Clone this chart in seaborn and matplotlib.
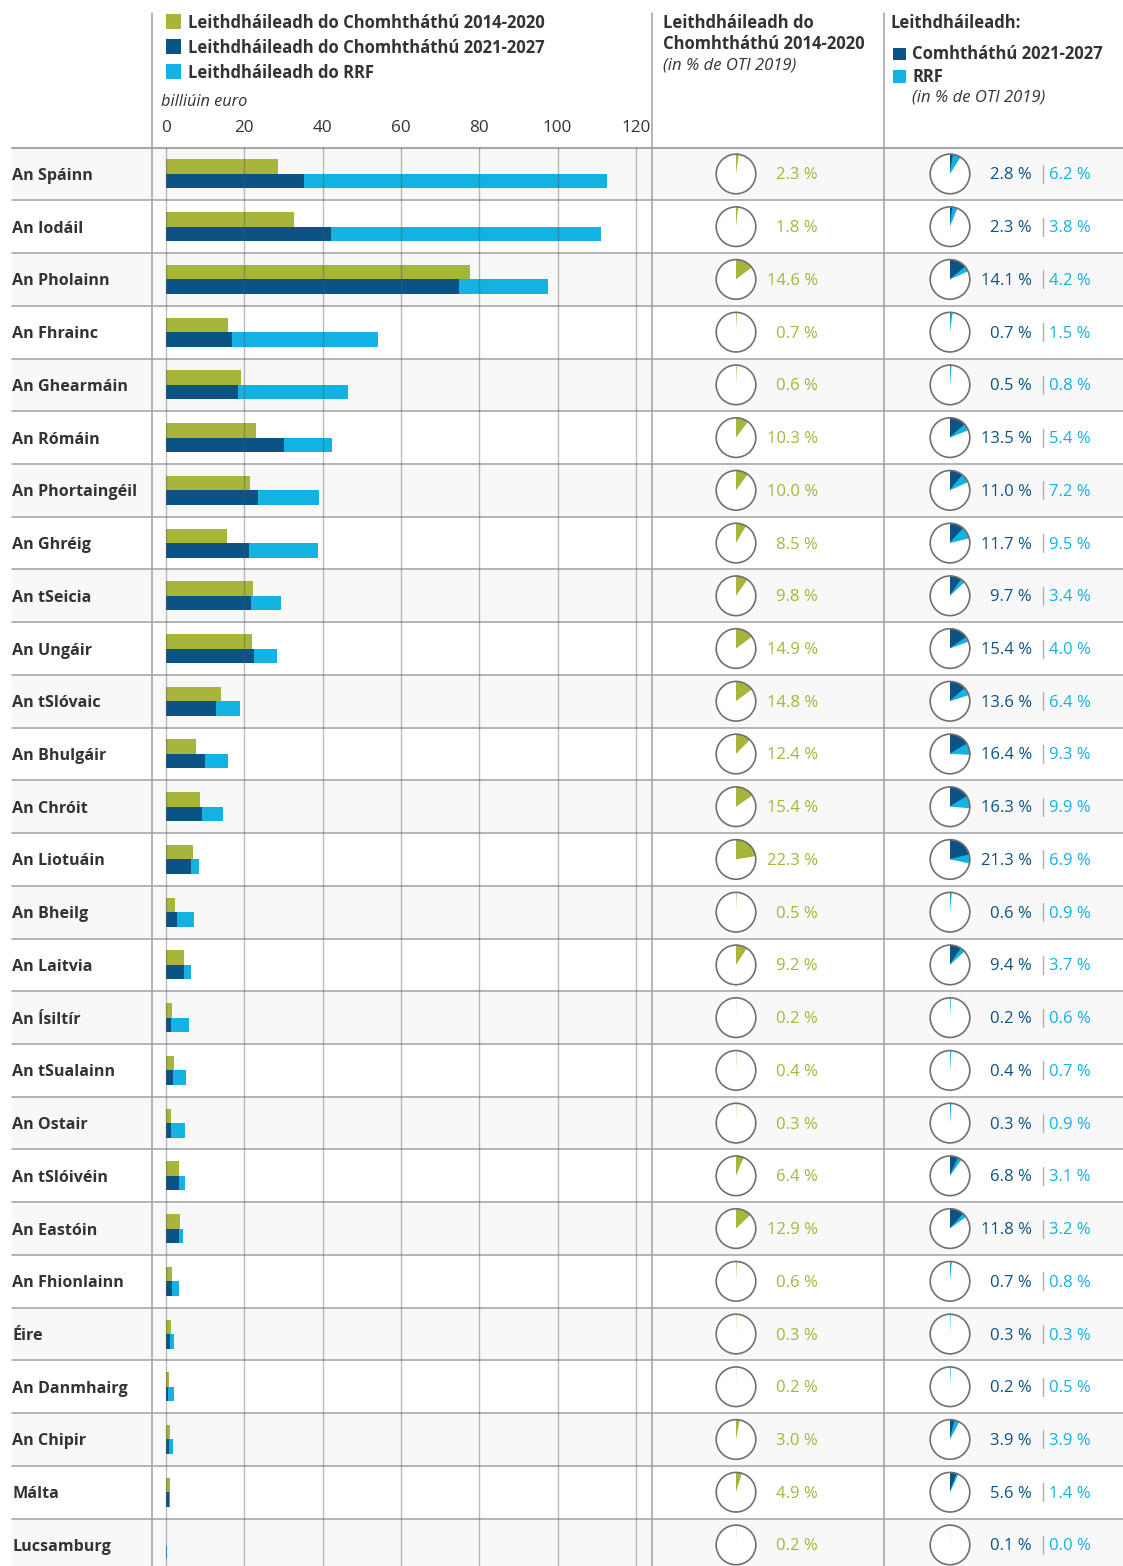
import seaborn as sns
import numpy as np
import pandas as pd
import matplotlib.pyplot as plt
from matplotlib.patches import Rectangle, Circle

countries = ['An Spáinn', 'An Iodáil', 'An Pholainn', 'An Fhrainc', 'An Ghearmáin',
             'An Rómáin', 'An Phortaingéil', 'An Ghréig', 'An tSeicia', 'An Ungáir',
             'An tSlóvaic', 'An Bhulgáir', 'An Chróit', 'An Liotuáin', 'An Bheilg',
             'An Laitvia', 'An Ísiltír', 'An tSualainn', 'An Ostair', 'An tSlóivéin',
             'An Eastóin', 'An Fhionlainn', 'Éire', 'An Danmhairg', 'An Chipir',
             'Málta', 'Lucsamburg']

# billiúin euro
coh_1420 = [28.6, 32.8, 77.7, 15.9, 19.2, 23.0, 21.5, 15.5, 22.1, 21.9, 14.0, 7.6, 8.7, 6.9,
            2.3, 4.5, 1.5, 2.1, 1.3, 3.2, 3.6, 1.5, 1.3, 0.7, 0.9, 0.9, 0.1]
coh_2127 = [35.3, 42.1, 74.9, 16.8, 18.3, 30.2, 23.6, 21.3, 21.7, 22.5, 12.8, 10.0, 9.1, 6.4,
            2.7, 4.5, 1.4, 1.9, 1.2, 3.2, 3.2, 1.5, 1.1, 0.4, 0.7, 0.7, 0.1]
rrf = [77.3, 69.0, 22.7, 37.4, 28.1, 12.2, 15.5, 17.4, 7.8, 5.8, 6.0, 5.8, 5.5, 2.1,
       4.5, 1.9, 4.6, 3.1, 3.7, 1.7, 1.1, 1.9, 1.0, 1.6, 1.1, 0.3, 0.05]

# % de OTI 2019
pct_1420 = [2.3, 1.8, 14.6, 0.7, 0.6, 10.3, 10.0, 8.5, 9.8, 14.9, 14.8, 12.4, 15.4, 22.3,
            0.5, 9.2, 0.2, 0.4, 0.3, 6.4, 12.9, 0.6, 0.3, 0.2, 3.0, 4.9, 0.2]
pct_2127 = [2.8, 2.3, 14.1, 0.7, 0.5, 13.5, 11.0, 11.7, 9.7, 15.4, 13.6, 16.4, 16.3, 21.3,
            0.6, 9.4, 0.2, 0.4, 0.3, 6.8, 11.8, 0.7, 0.3, 0.2, 3.9, 5.6, 0.1]
pct_rrf = [6.2, 3.8, 4.2, 1.5, 0.8, 5.4, 7.2, 9.5, 3.4, 4.0, 6.4, 9.3, 9.9, 6.9,
           0.9, 3.7, 0.6, 0.7, 0.9, 3.1, 3.2, 0.8, 0.3, 0.5, 3.9, 1.4, 0.0]

x_ticks = [0, 20, 40, 60, 80, 100, 120]
legend_labels = ['Leithdháileadh do Chomhtháthú 2014-2020',
                 'Leithdháileadh do Chomhtháthú 2021-2027',
                 'Leithdháileadh do RRF']

GREEN = '#a7b53a'
DARK = '#0b5384'
LIGHT = '#12b2e2'
TXT = '#333333'
LINE = '#a8a8a8'

sns.set_style('white')
plt.rcParams['font.family'] = ['Open Sans', 'DejaVu Sans']

W, H = 1123, 1566
fig = plt.figure(figsize=(W / 100, H / 100), dpi=100)

def frac(x0, y0, x1, y1):
    return [x0 / W, 1 - y1 / H, (x1 - x0) / W, (y1 - y0) / H]

def draw_pie(pax, values, colors):
    wedges, _ = pax.pie(values, colors=colors, startangle=90, counterclock=False, radius=1)
    for w, c in zip(wedges, colors):
        if c == 'white':
            w.set_linewidth(0)
        else:
            w.set_edgecolor(c)
            w.set_linewidth(0.6)
    pax.add_patch(Circle((0, 0), 1, fill=False, ec='#707070', lw=1.2))
    pax.set_xlim(-1.06, 1.06)
    pax.set_ylim(-1.06, 1.06)
    pax.set_aspect('equal')
    pax.axis('off')

top = 147.6
rh = 52.73
n = len(countries)

# background: bands, lines, header texts (pixel coords)
ax_bg = fig.add_axes([0, 0, 1, 1], zorder=0)
ax_bg.set_xlim(0, W)
ax_bg.set_ylim(H, 0)
ax_bg.axis('off')
for i in range(n):
    if i % 2 == 0:
        ax_bg.add_patch(Rectangle((12, top + i * rh), W - 12, rh, color='#f8f8f8', lw=0))
for i in range(n + 1):
    ax_bg.plot([12, W], [top + i * rh] * 2, color=LINE, lw=1.5 if i == 0 else 1.2)
for xv in [152, 652, 884]:
    ax_bg.plot([xv, xv], [13, H], color='#a0a0a0', lw=1.1)

for k, (lab, col) in enumerate(zip(legend_labels, [GREEN, DARK, LIGHT])):
    yc = 21.5 + k * 25.2
    ax_bg.add_patch(Rectangle((166, yc - 7.5), 15, 15, color=col, lw=0))
    ax_bg.text(188, yc + 1, lab, fontsize=12, fontweight='bold', color=TXT, va='center')
ax_bg.text(161, 101.5, 'billiúin euro', fontsize=11.8, style='italic', color=TXT, va='center')

ax_bg.text(663, 22.5, 'Leithdháileadh do', fontsize=12, fontweight='bold', color=TXT, va='center')
ax_bg.text(663, 44, 'Chomhtháthú 2014-2020', fontsize=12, fontweight='bold', color=TXT, va='center')
ax_bg.text(663, 65.5, '(in % de OTI 2019)', fontsize=12, style='italic', color=TXT, va='center')

ax_bg.text(891, 22.5, 'Leithdháileadh:', fontsize=12, fontweight='bold', color=TXT, va='center')
ax_bg.add_patch(Rectangle((893, 47.5), 12.5, 12.5, color=DARK, lw=0))
ax_bg.add_patch(Rectangle((893, 70), 12.5, 12.5, color=LIGHT, lw=0))
ax_bg.text(912, 54, 'Comhtháthú 2021-2027', fontsize=12, fontweight='bold', color=TXT, va='center')
ax_bg.text(912, 76.5, 'RRF', fontsize=12, fontweight='bold', color=TXT, va='center')
ax_bg.text(912, 97, '(in % de OTI 2019)', fontsize=12, style='italic', color=TXT, va='center')

# bars
df = pd.DataFrame({'land': countries, 'c1420': coh_1420, 'c2127': coh_2127, 'rrf': rrf})
df['iomlan'] = df['c2127'] + df['rrf']
back = df.melt(id_vars='land', value_vars=['c1420', 'iomlan'], var_name='sraith', value_name='luach')
front = df.melt(id_vars='land', value_vars=['c1420', 'c2127'], var_name='sraith', value_name='luach')

ax = fig.add_axes(frac(152, top, 652, H), zorder=1)
ax.set_facecolor('none')
sns.barplot(data=back, x='luach', y='land', hue='sraith', order=countries,
            hue_order=['c1420', 'iomlan'], palette=[GREEN, LIGHT], dodge=True,
            width=0.55, saturation=1, linewidth=0, errorbar=None, legend=False, ax=ax)
sns.barplot(data=front, x='luach', y='land', hue='sraith', order=countries,
            hue_order=['c1420', 'c2127'], palette=[GREEN, DARK], dodge=True,
            width=0.55, saturation=1, linewidth=0, errorbar=None, legend=False, ax=ax)
ax.set_xlim(-14 / 3.915, (652 - 166) / 3.915)
ax.set_ylim(-0.5 + (H - top) / rh, -0.5)
ax.set_xlabel('')
ax.set_ylabel('')
ax.xaxis.tick_top()
ax.set_xticks(x_ticks)
ax.tick_params(axis='x', length=0, pad=8, labelsize=12.3, labelcolor=TXT)
ax.tick_params(axis='y', length=0, pad=(152 - 12) * 0.72, labelsize=11.6, labelcolor=TXT)
for t in ax.get_yticklabels():
    t.set_ha('left')
    t.set_fontweight('bold')
    t.set_y(t.get_position()[1])
ax.grid(axis='x', color='#555555', alpha=0.4, lw=1)
ax.grid(axis='y', visible=False)
ax.set_axisbelow(False)
sns.despine(ax=ax, left=True, bottom=True, top=True, right=True)

# pies and percentages
for i in range(n):
    yc = top + (i + 0.5) * rh
    pa = fig.add_axes(frac(736 - 21, yc - 21, 736 + 21, yc + 21), zorder=2)
    draw_pie(pa, [pct_1420[i], 100 - pct_1420[i]], [GREEN, 'white'])
    pb = fig.add_axes(frac(950 - 21, yc - 21, 950 + 21, yc + 21), zorder=2)
    draw_pie(pb, [pct_2127[i], pct_rrf[i], 100 - pct_2127[i] - pct_rrf[i]], [DARK, LIGHT, 'white'])

    ty = yc + 1.5
    ax_bg.text(818, ty, f'{pct_1420[i]:.1f} %', ha='right', va='center', fontsize=12, color=GREEN)
    ax_bg.text(1032, ty, f'{pct_2127[i]:.1f} %', ha='right', va='center', fontsize=12, color=DARK)
    ax_bg.plot([1042.5, 1042.5], [yc - 9, yc + 9], color='#b0b0b0', lw=1)
    ax_bg.text(1049, ty, f'{pct_rrf[i]:.1f} %', ha='left', va='center', fontsize=12, color=LIGHT)

fig.savefig('out.png', dpi=100)
